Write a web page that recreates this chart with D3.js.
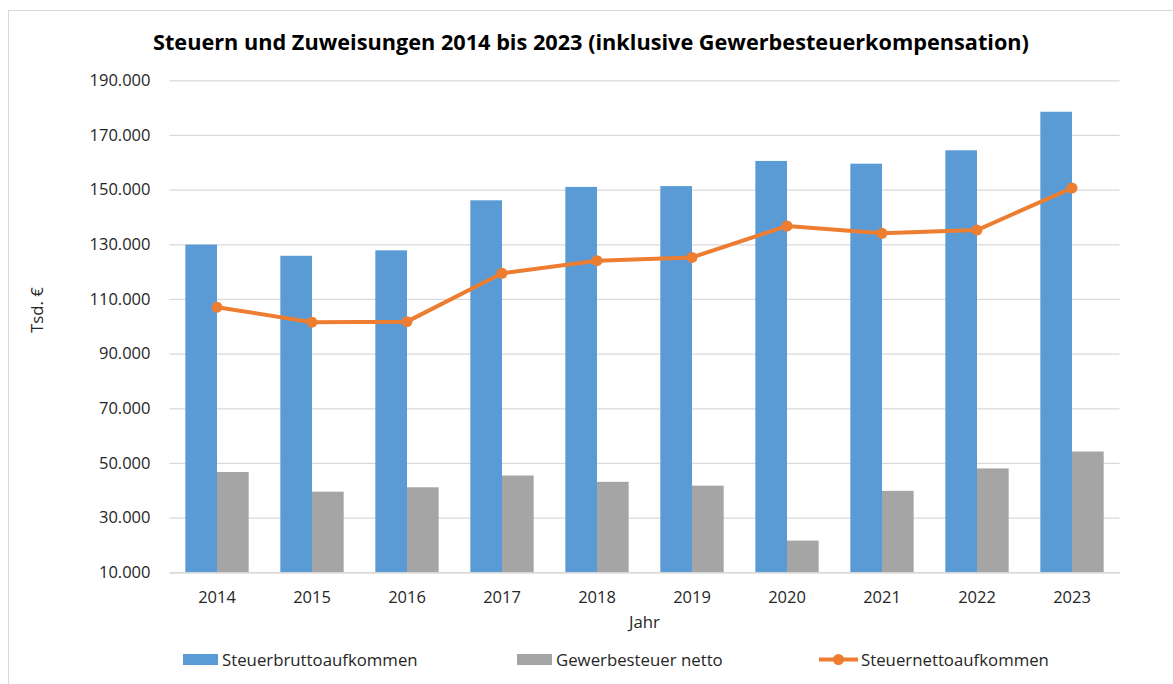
<!DOCTYPE html>
<html>
<head>
<meta charset="utf-8">
<script src="https://cdn.jsdelivr.net/npm/d3@7"></script>
<style>
  body { margin: 0; background: #fff; }
  svg text { font-family: "Open Sans", sans-serif; fill: #262626; }
</style>
</head>
<body>
<div id="chart"></div>
<script>
// Daten (Tsd. €)
var years = ["2014", "2015", "2016", "2017", "2018", "2019", "2020", "2021", "2022", "2023"];
var brutto = [129900, 125800, 127800, 146100, 151000, 151300, 160500, 159500, 164400, 178500];
var gewerbe = [46700, 39500, 41100, 45400, 43100, 41700, 21600, 39800, 48000, 54200];
var netto = [107000, 101500, 101700, 119400, 124000, 125200, 136700, 134000, 135200, 150600];
var seriesNames = ["Steuerbruttoaufkommen", "Gewerbesteuer netto", "Steuernettoaufkommen"];
var yTicks = [10000, 30000, 50000, 70000, 90000, 110000, 130000, 150000, 170000, 190000];

var W = 1173, H = 684;
var LEFT = 169.5, RIGHT = 1119.5, TOP = 80.3, BOTTOM = 572.3;
var BLUE = "#5b9bd5", GREY = "#a5a5a5", ORANGE = "#ed7d31", GRID = "#d9d9d9";

var de = d3.formatLocale({ decimal: ",", thousands: ".", grouping: [3], currency: ["", " €"] });
var fmt = de.format(",.0f");

var svg = d3.select("#chart").append("svg")
    .attr("width", W)
    .attr("height", H);

// Diagrammrahmen
svg.append("rect")
    .attr("x", 8.5).attr("y", 10.5)
    .attr("width", 1200).attr("height", 700)
    .attr("fill", "#fff")
    .attr("stroke", GRID);

var x = d3.scaleBand().domain(years).range([LEFT, RIGHT]);
var bw = x.bandwidth();
var xs = d3.scaleBand().domain([0, 1]).range([bw / 6, bw * 5 / 6]);
var y = d3.scaleLinear().domain([10000, 190000]).range([BOTTOM, TOP]);

// Gitterlinien + Y-Achse
var yAxis = svg.append("g")
    .attr("transform", "translate(" + LEFT + ",0)")
    .call(d3.axisLeft(y).tickValues(yTicks).tickFormat(fmt).tickSize(-(RIGHT - LEFT)).tickPadding(19));
yAxis.select(".domain").remove();
yAxis.selectAll(".tick line").attr("stroke", GRID).attr("stroke-width", 1.3);
yAxis.selectAll(".tick text").attr("font-size", "16.5px").attr("fill", "#262626")
    .attr("font-family", "Open Sans");

// Balken
var groups = svg.append("g").selectAll("g")
    .data(years)
    .enter().append("g")
    .attr("transform", function (d) { return "translate(" + x(d) + ",0)"; });
groups.append("rect")
    .attr("x", xs(0))
    .attr("width", xs.bandwidth())
    .attr("y", function (d, i) { return y(brutto[i]); })
    .attr("height", function (d, i) { return y(10000) - y(brutto[i]); })
    .attr("fill", BLUE);
groups.append("rect")
    .attr("x", xs(1))
    .attr("width", xs.bandwidth())
    .attr("y", function (d, i) { return y(gewerbe[i]); })
    .attr("height", function (d, i) { return y(10000) - y(gewerbe[i]); })
    .attr("fill", GREY);

// X-Achse
var xAxis = svg.append("g")
    .attr("transform", "translate(0," + BOTTOM + ")")
    .call(d3.axisBottom(x).tickSize(0).tickPadding(19));
xAxis.select(".domain").attr("stroke", GRID).attr("stroke-width", 1.3);
xAxis.selectAll(".tick text").attr("font-size", "16.5px").attr("fill", "#262626")
    .attr("font-family", "Open Sans");

// Linie
var line = d3.line()
    .x(function (d, i) { return x(years[i]) + bw / 2; })
    .y(function (d) { return y(d); });
svg.append("path")
    .datum(netto)
    .attr("d", line)
    .attr("fill", "none")
    .attr("stroke", ORANGE)
    .attr("stroke-width", 4)
    .attr("stroke-linejoin", "round");
svg.append("g").selectAll("circle")
    .data(netto)
    .enter().append("circle")
    .attr("cx", function (d, i) { return x(years[i]) + bw / 2; })
    .attr("cy", function (d) { return y(d); })
    .attr("r", 5.5)
    .attr("fill", ORANGE);

// Titel
svg.append("text")
    .attr("x", 591).attr("y", 50)
    .attr("text-anchor", "middle")
    .attr("font-size", "21.7px")
    .attr("font-weight", "bold")
    .style("fill", "#000")
    .text("Steuern und Zuweisungen 2014 bis 2023 (inklusive Gewerbesteuerkompensation)");

// Achsentitel
svg.append("text")
    .attr("transform", "translate(43,310) rotate(-90)")
    .attr("text-anchor", "middle")
    .attr("font-size", "16.8px")
    .text("Tsd. €");
svg.append("text")
    .attr("x", (LEFT + RIGHT) / 2).attr("y", 628)
    .attr("text-anchor", "middle")
    .attr("font-size", "16.8px")
    .text("Jahr");

// Legende
var legend = svg.append("g");
legend.append("rect").attr("x", 183).attr("y", 654).attr("width", 35).attr("height", 11).attr("fill", BLUE);
legend.append("text").attr("x", 222).attr("y", 665.5).attr("font-size", "16.8px").text(seriesNames[0]);
legend.append("rect").attr("x", 517).attr("y", 654).attr("width", 35).attr("height", 11).attr("fill", GREY);
legend.append("text").attr("x", 556).attr("y", 665.5).attr("font-size", "16.8px").text(seriesNames[1]);
legend.append("line").attr("x1", 819).attr("x2", 858).attr("y1", 659.5).attr("y2", 659.5)
    .attr("stroke", ORANGE).attr("stroke-width", 4);
legend.append("circle").attr("cx", 838.5).attr("cy", 659.5).attr("r", 5.5).attr("fill", ORANGE);
legend.append("text").attr("x", 861).attr("y", 665.5).attr("font-size", "16.8px").text(seriesNames[2]);
</script>
</body>
</html>
